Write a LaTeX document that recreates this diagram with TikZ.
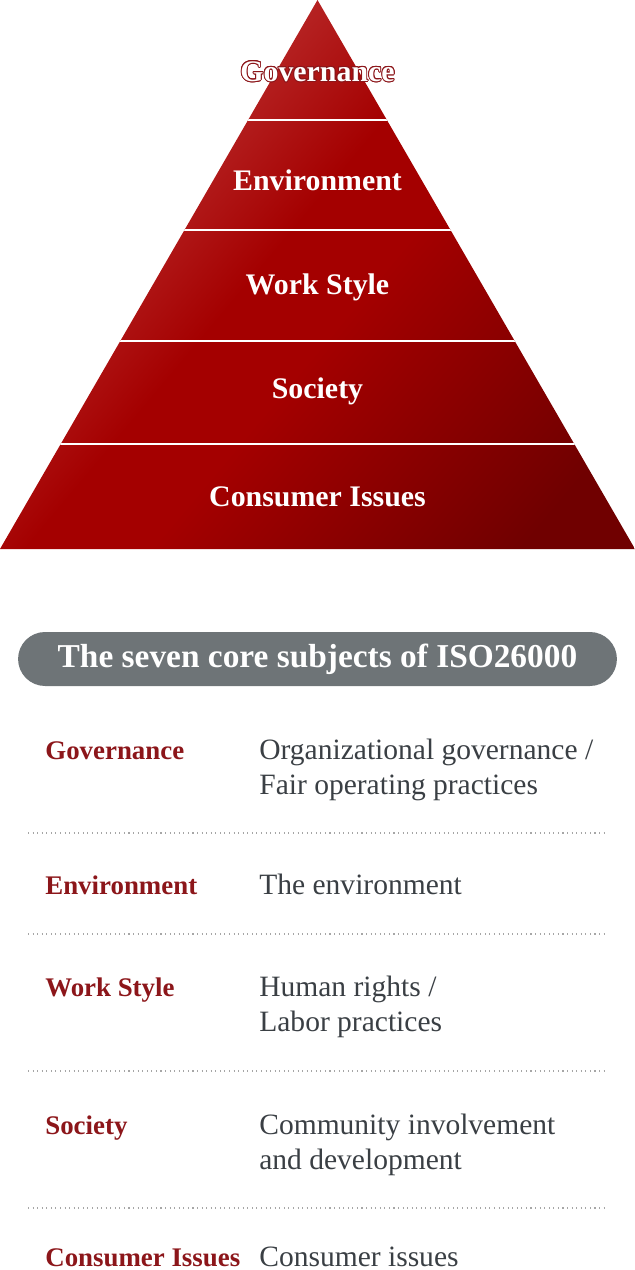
\documentclass[tikz,border=0pt]{standalone}
\usepackage{fontspec}
\setmainfont{Liberation Serif}
\usepackage{tikz}
\usetikzlibrary{positioning}
\usepackage{contour}
\contourlength{0.5pt}
\definecolor{IsoRed}{RGB}{140,22,26}
\definecolor{IsoText}{RGB}{58,63,68}
\definecolor{IsoGrey}{RGB}{110,116,119}
\definecolor{PyrLight}{RGB}{192,56,56}
\definecolor{PyrMid}{RGB}{164,0,0}
\definecolor{PyrDark}{RGB}{112,0,0}
\pgfdeclarehorizontalshading{pyramid}{100bp}{color(0bp)=(PyrLight); color(28bp)=(PyrLight);
  color(46bp)=(PyrMid); color(54bp)=(PyrMid); color(78bp)=(PyrDark); color(100bp)=(PyrDark)}

\begin{document}
\begin{tikzpicture}[x=0.02cm,y=-0.02cm,
  band/.style={text=white,font=\fontsize{17}{20}\selectfont\bfseries,inner sep=0pt},
  head/.style={fill=IsoGrey,rounded corners=0.54cm,minimum width=11.98cm,minimum height=1.08cm,
               text=white,font=\fontsize{19}{22}\selectfont\bfseries,inner sep=0pt},
  topic/.style={anchor=base west,text=IsoRed,font=\fontsize{15.3}{18}\selectfont\bfseries,inner sep=0pt},
  desc/.style={anchor=base west,text=IsoText,align=left,font=\fontsize{16.8}{19.8}\selectfont,inner sep=0pt},
  sep/.style={draw=gray!70,dotted,line width=0.6pt},
]
\useasboundingbox (0,0) rectangle (635,1270);
\shade[shading=pyramid,shading angle=-40]
  (0,549) -- (317.5,0) -- (635,549) -- cycle;
\begin{scope}
  \clip (0,549) -- (317.5,0) -- (635,549) -- cycle;
  \foreach \y in {120,230,341,444}
    \draw[white,line width=1.2pt] (0,\y) -- (635,\y);
\end{scope}
\node[band] (pgov) at (317.5,72) {\contour{IsoRed}{Governance}};
\foreach \y/\t/\n in {180/Environment/penv,287/Work Style/pwork,391/Society/psoc,497/Consumer Issues/pcon}
  \node[band] (\n) at (317.5,\y) {\t};

\node[head] (title) at (317.5,659) {The seven core subjects of ISO26000};

\node[topic] (tgov) at (45,759) {Governance};
\node[desc] (dgov) at (259,794) {Organizational governance /\\Fair operating practices};
\node[topic] (tenv) at (45,894) {Environment};
\node[desc] (denv) at (259,894) {The environment};
\node[topic] (twork) at (45,996) {Work Style};
\node[desc] (dwork) at (259,1031) {Human rights /\\Labor practices};
\node[topic] (tsoc) at (45,1134) {Society};
\node[desc] (dsoc) at (259,1169) {Community involvement\\and development};
\node[topic] (tcon) at (45,1266) {Consumer Issues};
\node[desc] (dcon) at (259,1266) {Consumer issues};

\foreach \y in {833,934,1071,1208}
  \draw[sep] (28,\y) -- (607,\y);
\end{tikzpicture}
\end{document}
